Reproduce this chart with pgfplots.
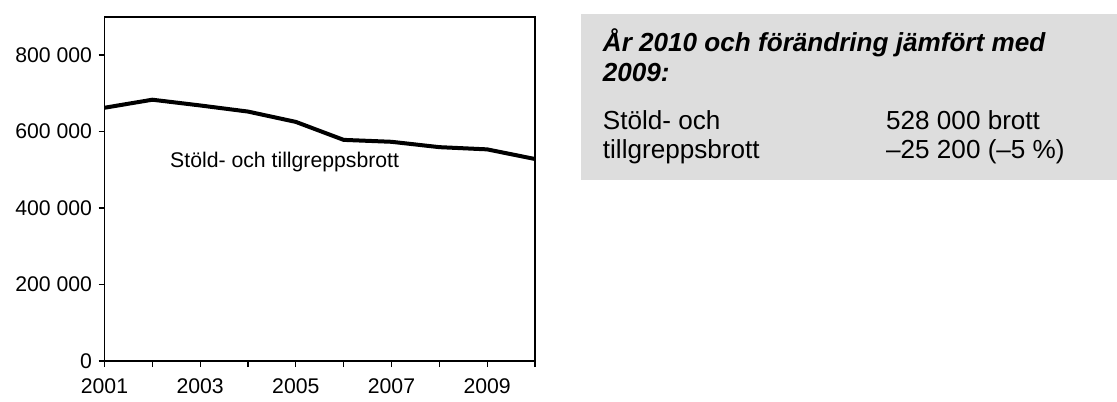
\documentclass[border=0pt]{standalone}
\usepackage{fontspec}
\setmainfont{Liberation Sans}
\usepackage{pgfplots}
\pgfplotsset{compat=1.18}
\definecolor{boxgray}{RGB}{221,221,221}
\begin{document}
\begin{tikzpicture}[x=1bp,y=1bp]
\path[use as bounding box] (0,0) rectangle (1117,401);
\fill[boxgray] (580.7,221) rectangle (1117,386.7);
\begin{axis}[
  at={(104.5bp,40bp)}, anchor=south west,
  scale only axis, width=430.5bp, height=344.3bp,
  xmin=2001, xmax=2010, ymin=0, ymax=900000,
  axis line style={line width=1.8bp},
  tick style={line width=1.2bp, black},
  tick align=outside, major tick length=6bp,
  xtick pos=lower, ytick pos=lower,
  xtick={2001,2002,...,2010},
  xticklabels={2001,,2003,,2005,,2007,,2009,},
  ytick={0,200000,400000,600000,800000},
  yticklabels={0,200 000,400 000,600 000,800 000},
  scaled y ticks=false,
  ticklabel style={font=\fontsize{21.3}{25}\selectfont},
  xticklabel style={yshift=-8bp},
  yticklabel style={xshift=-3bp},
]
\addplot[line width=4bp, black] coordinates {
(2001,662000)(2002,683000)(2003,668000)(2004,652000)(2005,625000)
(2006,578000)(2007,573000)(2008,559000)(2009,553200)(2010,528000)};
\node[anchor=base west, inner sep=0, font=\fontsize{21.3}{25}\selectfont] at (axis cs:2002.37,506700) {Stöld- och tillgreppsbrott};
\end{axis}
\node[anchor=base west, inner sep=0, font=\fontsize{26.2}{30}\selectfont\bfseries\itshape] at (602.7,349.3) {År 2010 och förändring jämfört med};
\node[anchor=base west, inner sep=0, font=\fontsize{26.2}{30}\selectfont\bfseries\itshape] at (602.7,319.3) {2009:};
\node[anchor=base west, inner sep=0, font=\fontsize{26.2}{30}\selectfont] at (602.7,271.7) {Stöld- och};
\node[anchor=base west, inner sep=0, font=\fontsize{26.2}{30}\selectfont] at (602.7,242.7) {tillgreppsbrott};
\node[anchor=base west, inner sep=0, font=\fontsize{26.2}{30}\selectfont] at (886,271.7) {528 000 brott};
\node[anchor=base west, inner sep=0, font=\fontsize{26.2}{30}\selectfont] at (886,242.7) {–25 200 (–5 \%)};
\end{tikzpicture}
\end{document}
